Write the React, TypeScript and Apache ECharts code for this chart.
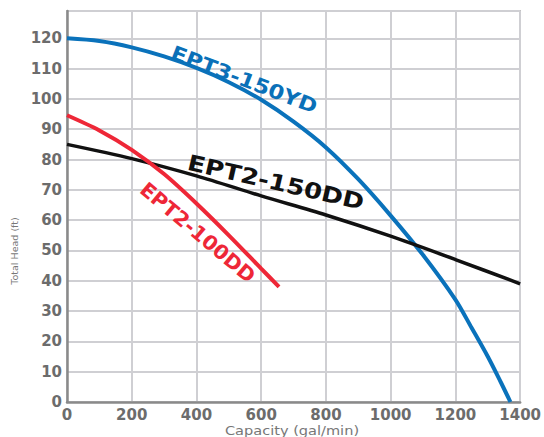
import React, { useEffect, useRef } from "react";
import * as echarts from "echarts";

// EPT3-150YD (blue)
const ept3Capacity = [0, 100, 200, 300, 400, 500, 600, 700, 800, 900, 1000, 1100, 1200, 1250, 1300, 1340, 1370];
const ept3Head = [120, 119.1, 117, 114, 110.2, 105.5, 99.7, 92.5, 84, 73.5, 61.5, 48.5, 33.8, 24.5, 15, 6.6, 0];

// EPT2-150DD (black)
const ept2bCapacity = [0, 200, 400, 600, 800, 1000, 1200, 1400];
const ept2bHead = [85, 80.3, 74.6, 68, 61.7, 54.7, 47, 39];

// EPT2-100DD (red)
const ept2aCapacity = [0, 100, 200, 300, 400, 500, 600, 655];
const ept2aHead = [94.6, 89.6, 83.2, 75.2, 65.5, 55, 44, 38];

const xTicks = [0, 200, 400, 600, 800, 1000, 1200, 1400];
const yTicks = [0, 10, 20, 30, 40, 50, 60, 70, 80, 90, 100, 110, 120];

const seriesNames = ["EPT3-150YD", "EPT2-150DD", "EPT2-100DD"];
// label anchor positions in data coordinates
const labelAnchors = [
  [548, 106.4],
  [645, 72.4],
  [404, 55.9],
];

const zip = (xs: number[], ys: number[]) => xs.map((x, i) => [x, ys[i]]);

export default function App() {
  const ref = useRef<HTMLDivElement>(null);
  useEffect(() => {
    document.body.style.margin = "0";
    if (!ref.current) return;
    const chart = echarts.init(ref.current, null, { renderer: "svg" });
    const tickFont = {
      fontFamily: "DejaVu Sans",
      fontWeight: "bold" as const,
      fontSize: 15,
      color: "#6c6c6c",
    };
    chart.setOption({
      animation: false,
      backgroundColor: "#ffffff",
      grid: {
        left: 67,
        right: 18,
        top: 11,
        bottom: 35,
        show: true,
        borderColor: "#a2a2a2",
        borderWidth: 1.5,
        backgroundColor: "#ffffff",
      },
      xAxis: {
        type: "value",
        min: xTicks[0],
        max: xTicks[xTicks.length - 1],
        interval: 200,
        axisLine: { show: true, onZero: false, lineStyle: { color: "#8a8a8a", width: 2.5 } },
        axisTick: { show: false },
        splitLine: { show: true, lineStyle: { color: "#cfcfd3", width: 2 } },
        axisLabel: {
          ...tickFont,
          margin: 5,
          formatter: (v: number) => (xTicks.indexOf(v) >= 0 ? String(v) : ""),
        },
      },
      yAxis: {
        type: "value",
        min: 0,
        max: 129,
        interval: 10,
        axisLine: { show: true, onZero: false, lineStyle: { color: "#8a8a8a", width: 2.5 } },
        axisTick: { show: false },
        splitLine: { show: true, lineStyle: { color: "#cfcfd3", width: 2 } },
        axisLabel: {
          ...tickFont,
          margin: 5,
          showMaxLabel: false,
          formatter: (v: number) => (yTicks.indexOf(v) >= 0 ? String(v) : ""),
        },
      },
      series: [
        {
          name: seriesNames[0],
          type: "line",
          data: zip(ept3Capacity, ept3Head),
          smooth: 0.3,
          showSymbol: false,
          lineStyle: { color: "#0a72bb", width: 4 },
          z: 3,
        },
        {
          name: seriesNames[1],
          type: "line",
          data: zip(ept2bCapacity, ept2bHead),
          smooth: 0.3,
          showSymbol: false,
          lineStyle: { color: "#111111", width: 3.5 },
          z: 4,
        },
        {
          name: seriesNames[2],
          type: "line",
          data: zip(ept2aCapacity, ept2aHead),
          smooth: 0.3,
          showSymbol: false,
          lineStyle: { color: "#ee2737", width: 4 },
          z: 5,
        },
      ],
    });

    const colors = ["#0a70b8", "#111111", "#ee2737"];
    const rotDeg = [21, 13, 40];
    const sizes = [20, 22, 20];
    const scales = [1.13, 1.18, 1.03];
    const labels = seriesNames.map((name, i) => {
      const p = chart.convertToPixel({ gridIndex: 0 }, labelAnchors[i]) as number[];
      return {
        type: "text",
        x: p[0],
        y: p[1],
        rotation: (-rotDeg[i] * Math.PI) / 180,
        scaleX: scales[i],
        z: 10,
        style: {
          text: name,
          fill: colors[i],
          font: `bold ${sizes[i]}px "DejaVu Sans"`,
          align: "center",
          verticalAlign: "middle",
        },
      };
    });
    chart.setOption({
      graphic: [
        ...labels,
        {
          type: "text",
          x: 292,
          y: 430,
          scaleX: 1.12,
          style: {
            text: "Capacity (gal/min)",
            fill: "#777777",
            font: '13px "DejaVu Sans"',
            align: "center",
            verticalAlign: "middle",
          },
        },
        {
          type: "text",
          x: 14,
          y: 251,
          rotation: Math.PI / 2,
          style: {
            text: "Total Head (ft)",
            fill: "#777777",
            font: '9.5px "DejaVu Sans"',
            align: "center",
            verticalAlign: "middle",
          },
        },
      ],
    });
    return () => chart.dispose();
  }, []);
  return <div ref={ref} style={{ width: 544, height: 437 }} />;
}
